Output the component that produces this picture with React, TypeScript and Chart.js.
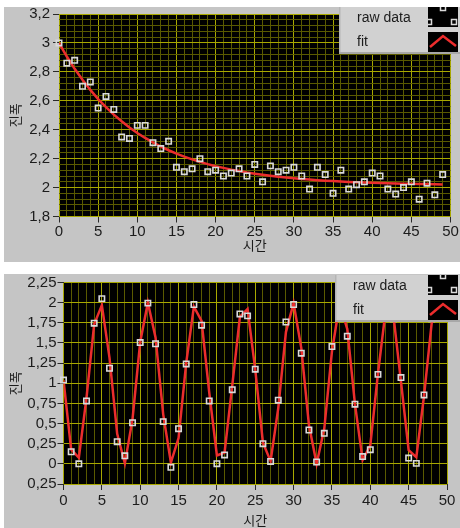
import React, { useEffect, useRef } from 'react';
import { Chart, registerables } from 'chart.js';

Chart.register(...registerables);

// ---------- data ----------
const sampleTimes = [
  0, 1, 2, 3, 4, 5, 6, 7, 8, 9, 10, 11, 12, 13, 14, 15, 16, 17, 18, 19, 20, 21, 22, 23, 24,
  25, 26, 27, 28, 29, 30, 31, 32, 33, 34, 35, 36, 37, 38, 39, 40, 41, 42, 43, 44, 45, 46, 47, 48, 49,
];

const decayRaw = [
  3.0, 2.86, 2.88, 2.7, 2.73, 2.55, 2.63, 2.54, 2.35, 2.34, 2.43, 2.43, 2.31, 2.27, 2.32, 2.14, 2.11,
  2.13, 2.2, 2.11, 2.12, 2.08, 2.1, 2.13, 2.08, 2.16, 2.04, 2.15, 2.11, 2.12, 2.14, 2.08, 1.99, 2.14,
  2.09, 1.96, 2.12, 1.99, 2.02, 2.04, 2.1, 2.08, 1.99, 1.955, 2.0, 2.04, 1.92, 2.03, 1.95, 2.09,
];

const decayFit = [
  3.0, 2.906, 2.821, 2.745, 2.675, 2.612, 2.556, 2.504, 2.458, 2.416, 2.377, 2.343, 2.312, 2.283, 2.258,
  2.235, 2.214, 2.195, 2.178, 2.162, 2.148, 2.136, 2.124, 2.114, 2.104, 2.096, 2.088, 2.081, 2.075,
  2.069, 2.064, 2.059, 2.055, 2.051, 2.048, 2.045, 2.042, 2.039, 2.037, 2.035, 2.033, 2.031, 2.03,
  2.028, 2.027, 2.026, 2.025, 2.024, 2.023, 2.022,
];

const waveRaw = [
  1.04, 0.15, 0.0, 0.78, 1.745, 2.05, 1.186, 0.275, 0.1, 0.51, 1.505, 1.994, 1.49, 0.524, -0.043, 0.436,
  1.24, 1.977, 1.72, 0.78, 0.002, 0.11, 0.92, 1.86, 1.836, 1.174, 0.25, 0.03, 0.79, 1.76, 1.977, 1.373,
  0.42, 0.023, 0.379, 1.455, 1.99, 1.584, 0.74, 0.09, 0.176, 1.11, 1.95, 1.8, 1.07, 0.072, 0.006, 0.855,
  1.8, 1.95,
];

const waveFit = [
  1.038, 0.179, 0.076, 0.822, 1.732, 1.969, 1.315, 0.372, 0.006, 0.554, 1.512, 2.0, 1.569, 0.614, 0.015,
  0.32, 1.252, 1.95, 1.775, 0.888, 0.104, 0.141, 0.971, 1.825, 1.921, 1.169, 0.262, 0.033, 0.692, 1.635,
  1.993, 1.439, 0.482, 0.0, 0.437, 1.394, 1.986, 1.672, 0.74, 0.047, 0.23, 1.121, 1.901, 1.852, 1.02,
  0.17, 0.082, 0.839, 1.744, 1.965,
];

const xTickValues = [0, 5, 10, 15, 20, 25, 30, 35, 40, 45, 50];
const xTickLabels = ['0', '5', '10', '15', '20', '25', '30', '35', '40', '45', '50'];

const decayYTickValues = [1.8, 2.0, 2.2, 2.4, 2.6, 2.8, 3.0, 3.2];
const decayYTickLabels = ['1,8', '2', '2,2', '2,4', '2,6', '2,8', '3', '3,2'];

const waveYTickValues = [-0.25, 0, 0.25, 0.5, 0.75, 1, 1.25, 1.5, 1.75, 2, 2.25];
const waveYTickLabels = ['0,25', '0', '0,25', '0,5', '0,75', '1', '1,25', '1,5', '1,75', '2', '2,25'];

const seriesNames = ['raw data', 'fit'];
const xAxisTitle = '시간';
const yAxisTitle = '진폭';

// ---------- styles ----------
const PANEL_BG = '#c5c5c5';
const LEGEND_BG = '#d1d1d1';
const GRID_MAJOR = '#a8a800';
const GRID_MINOR = '#5a5a00';
const FIT_RED = '#ec2d2d';
const POINT_WHITE = '#dadada';
const TEXT = '#1c1c1c';
const TICK_FONT = { family: "'Liberation Sans Narrow', 'Liberation Sans', Arial, sans-serif", size: 15 };
const LEGEND_FONT = { family: "'Liberation Sans', Arial, sans-serif", size: 14 };
const TITLE_FONT = { family: "'Noto Sans CJK KR', 'Noto Sans', sans-serif", size: 13 };

const near = (a: number, b: number) => Math.abs(a - b) < 1e-6;

function labelFor(values: number[], labels: string[], v: number) {
  const i = values.findIndex((m) => near(m, v));
  return i >= 0 ? labels[i] : '';
}

const plotBackground = {
  id: 'plotBackground',
  beforeDraw(chart: any) {
    const { ctx, chartArea: a } = chart;
    ctx.save();
    ctx.fillStyle = '#000';
    ctx.fillRect(a.left, a.top, a.right - a.left, a.bottom - a.top);
    ctx.restore();
  },
};

const graphLegend = {
  id: 'graphLegend',
  afterDraw(chart: any, _args: any, opts: any) {
    const ctx: CanvasRenderingContext2D = chart.ctx;
    const bx = opts.x;
    const by = opts.y;
    const w = chart.width - bx;
    const h = 47;
    ctx.save();
    ctx.fillStyle = LEGEND_BG;
    ctx.fillRect(bx, by, w, h);
    ctx.fillStyle = '#b5b5b5';
    ctx.fillRect(bx, by, 1.5, h);
    ctx.fillStyle = '#a8a8a8';
    ctx.fillRect(bx, by + h - 2, w, 2);

    ctx.fillStyle = TEXT;
    ctx.font = `${LEGEND_FONT.size}px ${LEGEND_FONT.family}`;
    ctx.textAlign = 'left';
    ctx.textBaseline = 'middle';
    ctx.fillText(seriesNames[0], bx + 18, by + 11);
    ctx.fillText(seriesNames[1], bx + 18, by + 35);

    const sx = 424;
    const sw = 30;
    // swatch 1: raw data markers
    const s1y = by;
    ctx.fillStyle = '#000';
    ctx.fillRect(sx, s1y, sw, 20);
    ctx.save();
    ctx.beginPath();
    ctx.rect(sx, s1y, sw, 20);
    ctx.clip();
    ctx.strokeStyle = POINT_WHITE;
    ctx.lineWidth = 1.5;
    const marks = [
      [sx + 15, s1y + 1],
      [sx + 1, s1y + 15],
      [sx + 26, s1y + 15],
    ];
    marks.forEach(([mx, my]) => ctx.strokeRect(mx - 2.5, my - 2.5, 5, 5));
    ctx.restore();

    // swatch 2: fit line
    const s2y = by + 25;
    ctx.fillStyle = '#000';
    ctx.fillRect(sx, s2y, sw, 20);
    ctx.strokeStyle = FIT_RED;
    ctx.lineWidth = 2.5;
    ctx.lineJoin = 'miter';
    ctx.beginPath();
    ctx.moveTo(sx + 2, s2y + 15);
    ctx.lineTo(sx + 15, s2y + 4);
    ctx.lineTo(sx + 28, s2y + 14);
    ctx.stroke();
    ctx.restore();
  },
};

type PanelSpec = {
  top: number;
  height: number;
  raw: number[];
  fit: number[];
  yMin: number;
  yMax: number;
  yMinorStep: number;
  yTickValues: number[];
  yTickLabels: string[];
  yWidth: number;
  xHeight: number;
  padTop: number;
  padRight: number;
  xLabelPad: number;
  yLabelPad: number;
  xTitlePad: number;
  yTitlePad: number;
  legendX: number;
  legendY: number;
};

function buildConfig(spec: PanelSpec): any {
  const rawPoints = sampleTimes.map((t, i) => ({ x: t, y: spec.raw[i] }));
  const fitPoints = sampleTimes.map((t, i) => ({ x: t, y: spec.fit[i] }));
  const xMajor = (v: number) => xTickValues.some((m) => near(m, v));
  const yMajor = (v: number) => spec.yTickValues.some((m) => near(m, v));
  return {
    type: 'line',
    data: {
      datasets: [
        {
          label: seriesNames[0],
          data: rawPoints,
          showLine: false,
          pointStyle: 'rect',
          pointRadius: 3.8,
          pointBorderWidth: 1.6,
          pointBorderColor: POINT_WHITE,
          pointBackgroundColor: 'rgba(0,0,0,0)',
          clip: false,
        },
        {
          label: seriesNames[1],
          data: fitPoints,
          borderColor: FIT_RED,
          borderWidth: 2.5,
          pointRadius: 0,
          tension: 0,
          fill: false,
        },
      ],
    },
    options: {
      animation: false,
      responsive: false,
      maintainAspectRatio: false,
      devicePixelRatio: 1,
      events: [],
      layout: { padding: { left: 0, top: spec.padTop, right: spec.padRight, bottom: 0 } },
      plugins: {
        legend: { display: false },
        tooltip: { enabled: false },
        graphLegend: { x: spec.legendX, y: spec.legendY },
      },
      scales: {
        x: {
          type: 'linear',
          min: xTickValues[0],
          max: xTickValues[xTickValues.length - 1],
          afterBuildTicks: (s: any) => {
            const ticks = [];
            for (let v = s.min; v <= s.max + 1e-9; v += 1) ticks.push({ value: v });
            s.ticks = ticks;
          },
          afterFit: (s: any) => {
            s.height = spec.xHeight;
            s.paddingLeft = 0;
            s.paddingRight = 0;
          },
          ticks: {
            autoSkip: false,
            maxRotation: 0,
            minRotation: 0,
            padding: spec.xLabelPad,
            color: TEXT,
            font: TICK_FONT,
            callback: (v: number) => labelFor(xTickValues, xTickLabels, v),
          },
          grid: {
            color: (c: any) => (c.tick && !xMajor(c.tick.value) ? GRID_MINOR : GRID_MAJOR),
            lineWidth: 1,
            drawTicks: true,
            tickLength: 6,
            tickWidth: 1,
            tickColor: (c: any) => (c.tick && xMajor(c.tick.value) ? '#2a2a2a' : 'rgba(0,0,0,0)'),
          },
          border: { display: false },
          title: {
            display: true,
            text: xAxisTitle,
            color: TEXT,
            font: TITLE_FONT,
            padding: { top: 0, bottom: spec.xTitlePad },
          },
        },
        y: {
          type: 'linear',
          min: spec.yMin,
          max: spec.yMax,
          afterBuildTicks: (s: any) => {
            const n = Math.round((spec.yMax - spec.yMin) / spec.yMinorStep);
            const ticks = [];
            for (let i = 0; i <= n; i++) ticks.push({ value: spec.yMin + i * spec.yMinorStep });
            s.ticks = ticks;
          },
          afterFit: (s: any) => {
            s.width = spec.yWidth;
            s.paddingTop = 0;
            s.paddingBottom = 0;
          },
          ticks: {
            autoSkip: false,
            padding: spec.yLabelPad,
            color: TEXT,
            font: TICK_FONT,
            callback: (v: number) => labelFor(spec.yTickValues, spec.yTickLabels, v),
          },
          grid: {
            color: (c: any) => (c.tick && !yMajor(c.tick.value) ? GRID_MINOR : GRID_MAJOR),
            lineWidth: 1,
            drawTicks: true,
            tickLength: 6,
            tickWidth: 1,
            tickColor: (c: any) => (c.tick && yMajor(c.tick.value) ? '#2a2a2a' : 'rgba(0,0,0,0)'),
          },
          border: { display: false },
          title: {
            display: true,
            text: yAxisTitle,
            color: TEXT,
            font: TITLE_FONT,
            padding: { top: spec.yTitlePad, bottom: 0 },
          },
        },
      },
    },
    plugins: [plotBackground, graphLegend],
  };
}

function GraphPanel({ spec }: { spec: PanelSpec }) {
  const ref = useRef<HTMLCanvasElement>(null);
  useEffect(() => {
    if (!ref.current) return;
    const chart = new Chart(ref.current, buildConfig(spec));
    return () => chart.destroy();
  }, [spec]);
  return (
    <div
      style={{
        position: 'absolute',
        left: 4,
        top: spec.top,
        width: 456,
        height: spec.height,
        background: PANEL_BG,
      }}
    >
      <canvas
        ref={ref}
        width={456}
        height={spec.height}
        style={{ display: 'block', width: 456, height: spec.height }}
      />
    </div>
  );
}

const decaySpec: PanelSpec = {
  top: 7,
  height: 255,
  raw: decayRaw,
  fit: decayFit,
  yMin: 1.8,
  yMax: 3.2,
  yMinorStep: 0.04,
  yTickValues: decayYTickValues,
  yTickLabels: decayYTickLabels,
  yWidth: 55,
  xHeight: 45.5,
  padTop: 7,
  padRight: 9.5,
  xLabelPad: 0,
  yLabelPad: 3,
  xTitlePad: 9,
  yTitlePad: 3,
  legendX: 335,
  legendY: 0,
};

const waveSpec: PanelSpec = {
  top: 274,
  height: 254,
  raw: waveRaw,
  fit: waveFit,
  yMin: -0.25,
  yMax: 2.25,
  yMinorStep: 0.25,
  yTickValues: waveYTickValues,
  yTickLabels: waveYTickLabels,
  yWidth: 59.5,
  xHeight: 44,
  padTop: 8.5,
  padRight: 13,
  xLabelPad: 2,
  yLabelPad: 1,
  xTitlePad: 0,
  yTitlePad: 3,
  legendX: 331,
  legendY: 1,
};

export default function App() {
  return (
    <div
      style={{
        position: 'fixed',
        left: 0,
        top: 0,
        width: 460,
        height: 528,
        background: '#ffffff',
        overflow: 'hidden',
      }}
    >
      <GraphPanel spec={decaySpec} />
      <GraphPanel spec={waveSpec} />
    </div>
  );
}
